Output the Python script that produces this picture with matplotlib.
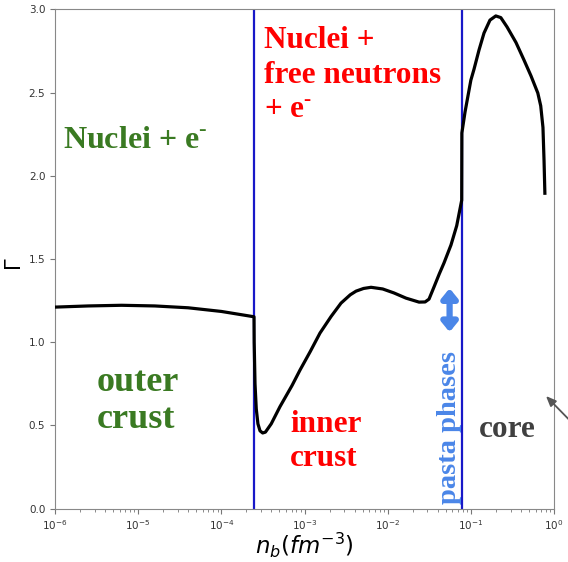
import numpy as np
import matplotlib
matplotlib.use("Agg")
import matplotlib.pyplot as plt

plt.rcParams['mathtext.fontset'] = 'dejavusans'
plt.rcParams['mathtext.rm'] = 'Liberation Serif'
plt.rcParams['mathtext.bf'] = 'Liberation Serif:bold'

# log10(n_b) and Gamma values
log_nb = [-6.0, -5.6, -5.2, -4.8, -4.4, -4.0, -3.607,
          -3.605, -3.595, -3.58, -3.56, -3.535, -3.503, -3.47, -3.40, -3.295,
          -3.15, -3.054, -2.93, -2.814, -2.68, -2.561, -2.45, -2.38, -2.29,
          -2.20, -2.06, -1.924, -1.78, -1.623, -1.55, -1.503, -1.443, -1.38,
          -1.323, -1.239, -1.17, -1.11,
          -1.108, -1.07, -1.00, -0.962, -0.902, -0.842, -0.77, -0.70, -0.64,
          -0.565, -0.457, -0.361, -0.277, -0.195, -0.16, -0.133, -0.12, -0.11]
gamma = [1.211, 1.218, 1.222, 1.218, 1.207, 1.185, 1.153,
         1.00, 0.75, 0.60, 0.51, 0.468, 0.455, 0.46, 0.51, 0.613,
         0.74, 0.833, 0.945, 1.055, 1.155, 1.235, 1.285, 1.307, 1.323,
         1.330, 1.320, 1.296, 1.265, 1.241, 1.242, 1.259, 1.332, 1.41,
         1.476, 1.584, 1.70, 1.853,
         2.257, 2.383, 2.574, 2.64, 2.755, 2.857, 2.935, 2.96, 2.95,
         2.894, 2.80, 2.695, 2.60, 2.497, 2.42, 2.29, 2.09, 1.895]

boundaries = [2.5e-4, 0.078]
yticks = [0.0, 0.5, 1.0, 1.5, 2.0, 2.5, 3.0]

fig = plt.figure(figsize=(5.68, 5.62), dpi=100)
ax = fig.add_axes([0.0968, 0.0948, 0.8786, 0.8887])

nb = 10.0 ** np.array(log_nb)
ax.plot(nb, gamma, color='black', lw=2.3, zorder=3)
for b in boundaries:
    ax.axvline(b, color='#1818c8', lw=1.6, zorder=2)

ax.set_xscale('log')
ax.set_xlim(1e-6, 1.0)
ax.set_ylim(0, 3.0)
ax.set_yticks(yticks)
ax.tick_params(labelsize=7.5, colors='#333333', color='#777777')
ax.tick_params(which='minor', color='#777777')
for s in ax.spines.values():
    s.set_color('#888888')

ax.set_xlabel(r'$n_b(fm^{-3})$', fontsize=16.5)
ax.set_ylabel(r'$\Gamma$', fontsize=15)
ax.xaxis.set_label_coords(0.5, -0.045)
ax.yaxis.set_label_coords(-0.06, 0.49)

serif = 'Liberation Serif'
green = '#3a7a22'
red = '#ff0000'
ax.text(1.25e-6, 2.166, r'Nuclei + e$^{\text{-}}$', fontsize=23, family=serif,
        fontweight='bold', color=green, math_fontfamily='custom', va='baseline')
ax.text(3.26e-4, 2.90, 'Nuclei +\nfree neutrons\n+ e$^{\\text{-}}$', fontsize=22.5,
        family=serif, fontweight='bold', color=red, math_fontfamily='custom',
        va='top', linespacing=1.28)
ax.text(3.2e-6, 0.86, 'outer\ncrust', fontsize=26, family=serif, fontweight='bold',
        color=green, va='top', linespacing=1.18)
ax.text(6.7e-4, 0.59, 'inner\ncrust', fontsize=22.5, family=serif, fontweight='bold',
        color=red, va='top', linespacing=1.2)
ax.text(0.125, 0.43, 'core', fontsize=22.5, family=serif, fontweight='bold',
        color='#404040', va='baseline')
ax.text(0.0555, 0.03, 'pasta phases', fontsize=20.5, family=serif, fontweight='bold',
        color='#4a86e8', rotation=90, ha='center', va='bottom')

ax.annotate('', xy=(0.0555, 1.324), xytext=(0.0555, 1.061),
            arrowprops=dict(arrowstyle='<|-|>,head_length=0.55,head_width=0.45',
                            color='#4a86e8', lw=4.5, shrinkA=0, shrinkB=0))
ax.annotate('', xy=(0.80, 0.677), xytext=(1.55, 0.53),
            arrowprops=dict(arrowstyle='-|>,head_length=0.6,head_width=0.25',
                            color='#555555', lw=1.3, shrinkA=0, shrinkB=0),
            annotation_clip=False)

fig.savefig('out.png', dpi=100)
